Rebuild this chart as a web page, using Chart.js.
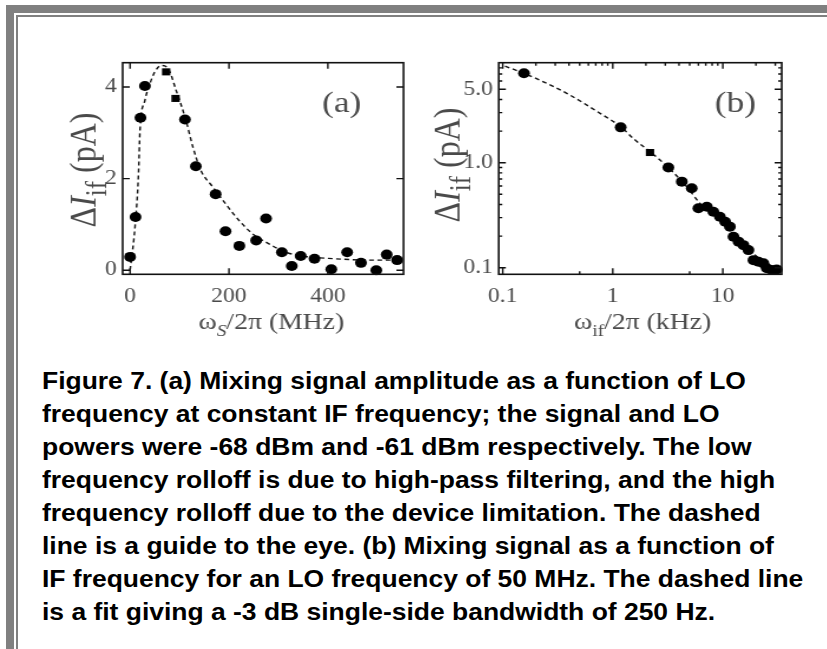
<!DOCTYPE html>
<html>
<head>
<meta charset="utf-8">
<script src="https://cdn.jsdelivr.net/npm/chart.js@4.4.1/dist/chart.umd.min.js"></script>
<style>
  html, body { margin: 0; padding: 0; background: #fff; }
  #page { position: relative; width: 827px; height: 649px; overflow: hidden; background: #fff; }
  .bar { position: absolute; background: #808080; }
  .panel { position: absolute; top: 40px; transform-origin: 0 0; transform: scaleX(1.18); filter: blur(0.5px); }
  #caption {
    position: absolute; left: 42px; top: 365px;
    font: bold 23px "Liberation Sans", Arial, sans-serif;
    line-height: 33px; color: #000; white-space: nowrap;
    transform-origin: 0 0; transform: scaleX(1.15);
  }
</style>
</head>
<body>
<div id="page">
  <div class="bar" style="left:6px;top:5px;width:821px;height:8px"></div>
  <div class="bar" style="left:6px;top:5px;width:8px;height:644px"></div>
  <div class="bar" style="left:16px;top:15px;width:811px;height:2px"></div>
  <div class="bar" style="left:16px;top:15px;width:2px;height:634px"></div>

  <canvas id="chart-a" class="panel" width="330" height="320" style="left:20px"></canvas>
  <canvas id="chart-b" class="panel" width="340" height="320" style="left:410px"></canvas>

  <div id="caption">
    Figure 7. (a) Mixing signal amplitude as a function of LO<br>
    frequency at constant IF frequency; the signal and LO<br>
    powers were -68 dBm and -61 dBm respectively. The low<br>
    frequency rolloff is due to high-pass filtering, and the high<br>
    frequency rolloff due to the device limitation. The dashed<br>
    line is a guide to the eye. (b) Mixing signal as a function of<br>
    IF frequency for an LO frequency of 50 MHz. The dashed line<br>
    is a fit giving a -3 dB single-side bandwidth of 250 Hz.
  </div>
</div>

<script>
// (a) signal vs LO frequency: MHz, pA
const freqA = [0, 11, 21, 30, 73, 92, 111, 133, 173, 193, 221, 255, 275, 307, 327, 345, 373, 407, 439, 467, 498, 519, 540];
const ampA  = [0.29, 1.16, 3.33, 4.02, 4.33, 3.75, 3.29, 2.27, 1.66, 0.85, 0.53, 0.65, 1.13, 0.39, 0.09, 0.31, 0.25, 0.02, 0.39, 0.16, 0.0, 0.34, 0.22];
// guide to the eye
const guideFreqA = [0, 10, 17, 20, 30, 40, 50, 63, 77, 93, 113, 127, 143, 167, 193, 220, 247, 280, 313, 347, 413, 487, 547];
const guideAmpA  = [0, 0.95, 2.1, 3.05, 3.71, 4.07, 4.33, 4.47, 4.4, 3.93, 3.27, 2.69, 2.18, 1.82, 1.45, 1.09, 0.80, 0.58, 0.40, 0.31, 0.25, 0.22, 0.22];

// (b) signal vs IF frequency: kHz, pA
const freqB = [0.156, 1.18, 2.18, 3.2, 4.24, 5.22, 6.0, 7.16, 8.2, 9.4, 10.5, 11.6, 12.5, 13.9, 15.4, 17.1, 19.0, 21.1, 23.4, 25.1, 27.9, 30.9];
const ampB  = [7.1, 2.17, 1.25, 0.90, 0.66, 0.57, 0.368, 0.381, 0.341, 0.306, 0.274, 0.246, 0.197, 0.177, 0.164, 0.147, 0.118, 0.114, 0.110, 0.0986, 0.095, 0.096];
// fit curve
const fitFreqB = [0.105, 0.156, 0.218, 0.382, 0.767, 1.18, 1.54, 2.69, 4.71, 6.2, 10, 20, 33];
const fitAmpB  = [8.3, 7.1, 6.1, 4.58, 2.95, 2.2, 1.7, 1.06, 0.59, 0.41, 0.27, 0.13, 0.088];

// ticks
const ticksAX = [0, 200, 400];
const ticksAY = [0, 2, 4];
const ticksBX = [0.1, 1, 10];
const labelsBX = ["0.1", "1", "10"];
const ticksBY = [0.1, 1, 5];
const labelsBY = ["0.1", "1.0", "5.0"];
const minorBX = [0.2, 0.3, 0.4, 0.5, 0.6, 0.7, 0.8, 0.9, 2, 3, 4, 5, 6, 7, 8, 9, 20, 30];
const minorBXbottom = [0.5, 5];
const minorBY = [0.2, 0.3, 0.4, 0.5, 0.6, 0.7, 0.8, 0.9, 2, 3, 4, 6, 7, 8];

const SERIF = '"Liberation Serif", "Times New Roman", serif';
const TXT = "#4a4a4a";

function pts(xs, ys) { return xs.map((x, i) => ({ x, y: ys[i] })); }

// draw a run of text pieces (normal / italic / subscript) starting at x
function drawPieces(ctx, pieces, size, x, y, subScale) {
    pieces.forEach(p => {
        const fs = p.sub ? size * subScale : size;
        ctx.font = (p.italic ? "italic " : "") + fs + "px " + SERIF;
        ctx.fillText(p.t, x, y + (p.sub ? size * 0.28 : 0));
        x += ctx.measureText(p.t).width;
    });
}
function piecesWidth(ctx, pieces, size, subScale) {
    let w = 0;
    pieces.forEach(p => {
        const fs = p.sub ? size * subScale : size;
        ctx.font = (p.italic ? "italic " : "") + fs + "px " + SERIF;
        w += ctx.measureText(p.t).width;
    });
    return w;
}

// frame, inward ticks, axis titles and panel tag
function framePlugin(cfg) {
    return {
        id: "frame",
        afterDraw(chart) {
            const ctx = chart.ctx, a = chart.chartArea;
            const sx = chart.scales.x, sy = chart.scales.y;
            ctx.save();
            ctx.strokeStyle = "#111";
            ctx.lineWidth = 1.6;
            ctx.strokeRect(a.left, a.top, a.right - a.left, a.bottom - a.top);

            ctx.lineWidth = 1.4;
            ctx.beginPath();
            const tickX = (vals, len, top, bottom) => vals.forEach(v => {
                const px = sx.getPixelForValue(v);
                if (px < a.left + 1 || px > a.right - 1) return;
                if (bottom) { ctx.moveTo(px, a.bottom); ctx.lineTo(px, a.bottom - len); }
                if (top) { ctx.moveTo(px, a.top); ctx.lineTo(px, a.top + len); }
            });
            const tickY = (vals, len) => vals.forEach(v => {
                const py = sy.getPixelForValue(v);
                if (py < a.top + 1 || py > a.bottom - 1) return;
                ctx.moveTo(a.left, py); ctx.lineTo(a.left + len, py);
                ctx.moveTo(a.right, py); ctx.lineTo(a.right - len, py);
            });
            tickX(cfg.majorX, 6, true, true);
            tickY(cfg.majorY, 6);
            if (cfg.minorX) tickX(cfg.minorX, 3, true, false);
            if (cfg.minorXbottom) tickX(cfg.minorXbottom, 3, false, true);
            if (cfg.minorY) tickY(cfg.minorY, 3);
            ctx.stroke();

            ctx.fillStyle = TXT;
            ctx.textBaseline = "alphabetic";

            // x title
            const xs = 23.5;
            const wx = piecesWidth(ctx, cfg.xTitle, xs, 0.7);
            drawPieces(ctx, cfg.xTitle, xs, (a.left + a.right) / 2 - wx / 2 + cfg.xTitleShift, a.bottom + 55, 0.7);

            // y title, rotated
            const ys = 32;
            const wy = piecesWidth(ctx, cfg.yTitle, ys, 0.78);
            ctx.save();
            ctx.translate(a.left - cfg.yTitleGap, (a.top + a.bottom) / 2 + cfg.yTitleShift);
            ctx.rotate(-Math.PI / 2);
            drawPieces(ctx, cfg.yTitle, ys, -wy / 2, 0, 0.78);
            ctx.restore();

            // panel tag
            ctx.font = "30px " + SERIF;
            ctx.fillText(cfg.tag, a.left + cfg.tagX, a.top + 49);
            ctx.restore();
        }
    };
}

function makeChart(id, opt) {
    const W = opt.width, H = 320;
    const L = opt.left, R = opt.right, T = 22.7, B = 234.3, XH = 60;
    return new Chart(document.getElementById(id), {
        type: "scatter",
        data: {
            datasets: [
                {
                    data: opt.points,
                    showLine: false,
                    pointRadius: 5,
                    pointStyle: opt.pointStyles,
                    backgroundColor: "#000",
                    borderColor: "#000",
                    borderWidth: 0,
                    clip: false
                },
                {
                    data: opt.curve,
                    showLine: true,
                    pointRadius: 0,
                    borderColor: "#111",
                    borderWidth: 1.4,
                    borderDash: [4, 3],
                    cubicInterpolationMode: "monotone"
                }
            ]
        },
        options: {
            responsive: false,
            animation: false,
            devicePixelRatio: 1,
            events: [],
            layout: { padding: { left: 0, top: T, right: W - R, bottom: H - B - XH } },
            plugins: { legend: { display: false }, tooltip: { enabled: false } },
            scales: {
                x: {
                    type: opt.logX ? "logarithmic" : "linear",
                    min: opt.xMin, max: opt.xMax,
                    grid: { display: false, drawTicks: false },
                    border: { display: false },
                    afterFit: s => { s.height = XH; },
                    afterBuildTicks: s => { s.ticks = opt.ticksX.map(v => ({ value: v })); },
                    ticks: {
                        autoSkip: false, maxRotation: 0, padding: 10,
                        color: TXT, font: { family: SERIF, size: 20 },
                        callback: (v, i) => opt.labelsX[i]
                    }
                },
                y: {
                    type: opt.logY ? "logarithmic" : "linear",
                    min: opt.yMin, max: opt.yMax,
                    grid: { display: false, drawTicks: false },
                    border: { display: false },
                    afterFit: s => { s.width = L; },
                    afterBuildTicks: s => { s.ticks = opt.ticksY.map(v => ({ value: v })); },
                    ticks: {
                        autoSkip: false, padding: 5,
                        color: TXT, font: { family: SERIF, size: 20 },
                        callback: (v, i) => opt.labelsY[i]
                    }
                }
            }
        },
        plugins: [framePlugin(opt.frame)]
    });
}

makeChart("chart-a", {
    width: 330, left: 87.0, right: 327.7,
    xMin: -15, xMax: 553, yMin: -0.09, yMax: 4.53,
    ticksX: ticksAX, labelsX: ticksAX.map(String),
    ticksY: ticksAY, labelsY: ticksAY.map(String),
    points: pts(freqA, ampA),
    pointStyles: freqA.map((f, i) => (i === 4 || i === 5) ? "rect" : "circle"),
    curve: pts(guideFreqA, guideAmpA),
    frame: {
        majorX: ticksAX, majorY: ticksAY,
        xTitle: [{ t: "\u03c9" }, { t: "S", sub: true, italic: true }, { t: "/2\u03c0 (MHz)" }],
        xTitleShift: 7,
        yTitle: [{ t: "\u0394" }, { t: "I", italic: true }, { t: "if", sub: true }, { t: " (pA)" }],
        yTitleGap: 23,
        yTitleShift: 1.5,
        tag: "(a)", tagX: 169
    }
});

makeChart("chart-b", {
    width: 340, left: 75.2, right: 315.0,
    logX: true, logY: true,
    xMin: 0.092, xMax: 34.3, yMin: 0.0865, yMax: 8.96,
    ticksX: ticksBX, labelsX: labelsBX,
    ticksY: ticksBY, labelsY: labelsBY,
    points: pts(freqB, ampB),
    pointStyles: freqB.map((f, i) => i === 2 ? "rect" : "circle"),
    curve: pts(fitFreqB, fitAmpB),
    frame: {
        majorX: ticksBX, majorY: ticksBY,
        minorX: minorBX, minorXbottom: minorBXbottom, minorY: minorBY,
        xTitle: [{ t: "\u03c9" }, { t: "if", sub: true }, { t: "/2\u03c0 (kHz)" }],
        xTitleShift: 2,
        yTitle: [{ t: "\u0394" }, { t: "I", italic: true }, { t: "if", sub: true }, { t: " (pA)" }],
        yTitleGap: 33,
        yTitleShift: -3.5,
        tag: "(b)", tagX: 183
    }
});
</script>
</body>
</html>
